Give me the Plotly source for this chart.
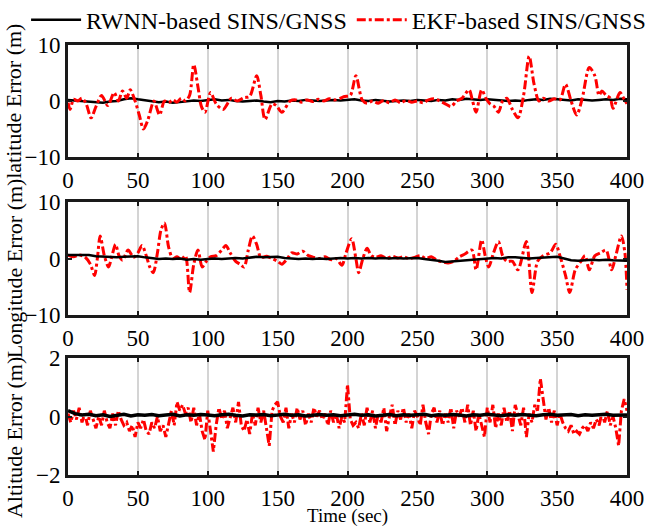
import plotly.graph_objects as go
from plotly.subplots import make_subplots

# ---------------- data ----------------
lat_ekf_t = [0, 1.5, 4, 7, 10, 13, 16.5, 20, 24, 28.5, 33, 36, 39, 42, 44.5, 48, 51, 54, 57, 61.5,
             65.5, 69, 72, 75, 78, 81, 84, 87, 90, 93, 95.5, 98, 102, 106, 111, 117, 121, 126, 130, 135,
             138, 141, 146, 149, 153, 159, 163, 167, 171, 175, 179, 183, 187, 191, 195, 198, 202, 206, 210.5, 214,
             218, 222, 226, 230, 234, 238, 242, 246, 250, 254, 258, 262, 266, 270, 274, 278, 282, 287, 289.5, 292,
             296, 299, 302, 305, 308, 311, 314, 318, 322, 326, 330, 333.5, 337, 340, 344, 348, 352, 356, 360, 364,
             368, 373, 377, 380, 382, 385, 388, 390, 395, 398, 400]
lat_ekf_v = [-0.3, -1.5, 0.3, 0.0, 0.5, -0.5, -3.0, -1.0, 1.0, -0.8, 1.5, 0.0, 1.8, 0.5, 2.0, 0.0, -2.5, -5.0, -3.5, 0.0,
             -2.5, 0.0, -0.3, 0.2, -0.2, 0.5, 0.0, 1.0, 6.5, 2.5, -1.0, -2.0, 1.5, -0.5, -1.5, 0.5, 0.0, 0.6, 0.8, 4.5,
             1.0, -3.3, -0.5, -0.8, -2.0, 0.0, 0.2, -0.2, 0.2, -0.1, 0.3, 0.0, 0.4, 0.2, 0.5, 0.8, 1.0, 4.5, 0.2, -0.4,
             0.0, -0.4, 0.1, -0.3, 0.2, -0.3, 0.1, -0.2, 0.0, -0.3, 0.2, 0.4, 0.0, -0.5, -1.0, 0.0, 0.5, 2.0, 0.0, -2.0,
             2.0, 0.5, -0.5, -1.0, -2.0, 0.0, 0.5, -1.5, -3.0, 1.0, 8.0, 3.0, 0.0, 0.5, 0.0, 0.4, 0.2, 3.0, 0.0, -2.5,
             0.5, 6.0, 4.5, 1.0, 1.8, 1.0, 0.5, -1.3, 1.5, 0.3, -0.5]

lon_ekf_t = [0, 4, 8, 12, 16, 19, 21, 23, 26, 29, 31.5, 34, 36.5, 39, 43, 47, 50, 53, 56, 58.5,
             61, 64, 66.5, 69, 72, 75, 78, 81, 84, 87, 90, 93, 96, 99, 102, 106, 110, 113, 116, 120,
             123, 126, 129, 132, 135, 138, 142, 146, 150, 153, 157, 160, 164, 168, 172, 176, 180, 184, 188, 192,
             196, 199, 203, 206, 208, 211, 214, 217, 220, 224, 228, 232, 236, 240, 244, 248, 252, 256, 260, 264,
             268, 272, 276, 280, 284, 289, 292, 296, 298.5, 301, 304.5, 308, 311, 314, 318, 322, 328, 332, 336, 340,
             345, 349, 352, 356, 359, 363, 367, 370, 373, 377, 381, 385, 389, 392, 396, 398.5, 400]
lon_ekf_v = [0.6, 0.3, 0.6, 0.3, -1.0, -3.0, 0.0, 4.0, 0.5, -1.5, 0.5, 2.5, 0.5, -0.3, 1.5, 0.2, 1.0, 2.3, 0.5, -1.5,
             -2.5, 1.0, 5.0, 6.3, 2.0, 0.0, 0.3, -0.2, 0.5, -6.0, -1.0, 1.5, -1.5, -0.5, 0.3, 0.5, 1.5, 2.3, 1.0, -0.5,
             -1.0, -1.5, 1.5, 4.0, 2.5, 0.2, 0.4, 0.0, -0.5, -1.0, 0.0, 1.0, 0.8, 1.3, 0.5, 0.2, 0.0, 0.3, -0.2, 0.0,
             -1.2, 1.0, 3.5, 0.0, -2.5, 0.0, 1.8, 0.5, 0.2, 0.5, 0.0, 0.4, 0.1, 0.3, 0.0, 0.2, 0.5, 0.0, 0.3, -0.3,
             -0.6, -0.8, -0.5, 0.3, 0.8, 1.5, -2.0, 3.3, 0.5, -1.5, 1.0, 3.0, 0.5, -0.5, -0.5, -2.0, 3.0, -6.0, -0.5, 0.5,
             1.0, 2.5, 0.5, -3.0, -6.0, -2.0, -0.5, 0.5, -2.0, 0.5, 1.0, 1.5, -2.0, 0.5, 4.0, 1.0, -5.5]

rw_step = 5
lat_rwnn = [0.2, 0.1, 0.0, -0.1, -0.2, -0.3, -0.1, 0.0, 0.3, 0.5, 0.3, 0.1, 0.0, -0.2, -0.1, -0.3, -0.2, -0.1, 0.1, 0.0,
            0.2, 0.3, 0.1, 0.2, 0.0, -0.1, 0.0, 0.1, -0.1, -0.2, 0.0, -0.1, 0.1, 0.0, 0.2, 0.1, 0.0, 0.1, 0.2, 0.1,
            0.2, 0.3, 0.1, 0.0, 0.2, 0.1, -0.1, 0.0, 0.1, 0.0, 0.2, 0.1, 0.0, 0.2, 0.1, 0.3, 0.2, 0.4, 0.3, 0.2,
            0.3, 0.2, 0.1, 0.0, 0.1, 0.0, 0.2, 0.3, 0.2, 0.4, 0.3, 0.2, 0.1, 0.3, 0.2, 0.1, 0.2, 0.3, 0.2, 0.4, 0.3]
lon_rwnn = [0.6, 0.6, 0.5, 0.6, 0.4, 0.3, 0.3, 0.2, 0.3, 0.4, 0.4, 0.2, 0.0, -0.1, 0.0, -0.1, 0.0, -0.2, -0.1, -0.2,
            -0.1, 0.0, -0.1, 0.0, 0.1, 0.0, 0.2, 0.3, 0.2, 0.3, 0.3, 0.1, 0.0, -0.1, 0.0, -0.1, 0.0, -0.1, 0.0, 0.1,
            0.0, 0.1, 0.0, 0.1, 0.0, 0.1, 0.0, 0.1, 0.0, 0.0, 0.1, -0.1, -0.2, -0.4, -0.6, -0.5, -0.3, -0.2, -0.1, 0.0,
            0.0, 0.1, 0.0, 0.2, 0.2, 0.1, 0.0, 0.1, 0.2, 0.3, 0.3, 0.0, -0.3, -0.4, -0.3, -0.2, -0.3, -0.2, -0.3, -0.4, -0.4]
alt_rwnn = [0.2, 0.1, 0.05, 0.08, 0.03, 0.06, 0.0, 0.05, 0.08, 0.02, 0.06, 0.04, 0.07, 0.03, 0.05, 0.08, 0.02, 0.06, 0.04, 0.07,
            0.05, 0.03, 0.06, 0.08, 0.04, 0.02, 0.06, 0.05, 0.07, 0.03, 0.05, 0.08, 0.04, 0.06, 0.02, 0.05, 0.07, 0.04, 0.06, 0.03,
            0.05, 0.08, 0.04, 0.06, 0.02, 0.05, 0.07, 0.03, 0.06, 0.04, 0.05, 0.08, 0.03, 0.06, 0.04, 0.07, 0.05, 0.02, 0.06, 0.04,
            0.08, 0.05, 0.03, 0.06, 0.04, 0.07, 0.05, 0.03, 0.06, 0.08, 0.04, 0.05, 0.07, 0.03, 0.06, 0.04, 0.05, 0.08, 0.04, 0.06, 0.05]

alt_step = 2
alt_ekf = [0.1, -0.2, 0.2, -0.1, 0.3, -0.2, 0.1, -0.3, 0.2, -0.1,
           -0.4, 0.0, -0.3, 0.2, -0.2, -0.4, 0.1, -0.3, 0.2, -0.1,
           -0.3, -0.2, -0.5, -0.3, -0.7, -0.2, -0.4, -0.1, -0.5, -0.6,
           -0.2, -0.4, 0.0, -0.5, -0.3, -0.7, -0.2, 0.2, -0.3, 0.5,
           0.2, 0.4, 0.1, 0.3, -0.2, 0.3, -0.3, 0.1, -0.5, -0.8,
           0.2, -0.6, -1.2, -0.3, 0.3, -0.1, 0.2, -0.4, 0.0, 0.3,
           -0.2, 0.5, -0.3, -0.5, -0.1, -0.6, 0.1, -0.3, 0.3, -0.2,
           0.2, -0.4, -1.0, 0.2, 0.4, 0.5, 0.0, -0.2, 0.3, -0.4,
           0.1, -0.2, 0.3, -0.1, 0.2, -0.3, 0.1, -0.2, 0.3, 0.0,
           0.2, -0.1, 0.1, -0.3, 0.2, -0.2, 0.1, -0.4, 0.0, -0.2,
           1.1, -0.1, -0.3, -0.2, -0.4, 0.1, -0.3, 0.3, -0.2, 0.2,
           -0.4, 0.1, -0.2, 0.3, -0.5, 0.0, 0.4, -0.3, 0.2, -0.1,
           0.3, -0.2, 0.1, -0.4, 0.2, 0.0, -0.3, 0.4, -0.2, -0.6,
           0.1, 0.3, -0.2, 0.2, -0.3, 0.1, -0.2, 0.3, -0.4, 0.2,
           0.0, 0.3, -0.2, 0.4, -0.3, 0.2, -0.5, 0.1, -0.3, -0.7,
           0.3, -0.2, 0.4, -0.4, 0.1, -0.3, 0.3, -0.2, 0.2, -0.5,
           0.4, 0.0, -0.3, 0.3, -0.7, 0.1, -0.2, 0.4, 0.2, 1.3,
           0.5, -0.1, 0.3, -0.2, 0.2, -0.3, 0.1, -0.2, -0.4, -0.5,
           -0.3, -0.6, -0.5, -0.6, -0.4, -0.3, -0.5, -0.2, -0.4, -0.1,
           -0.3, 0.1, -0.2, 0.2, -0.3, 0.0, -0.4, -1.0, 0.2, 0.6,
           0.2]

rw_t = [i * rw_step for i in range(len(lat_rwnn))]
alt_rw_t = [i * rw_step for i in range(len(alt_rwnn))]
alt_t = [i * alt_step for i in range(len(alt_ekf))]

x_ticks = [0, 50, 100, 150, 200, 250, 300, 350, 400]
legend_names = ["RWNN-based SINS/GNSS", "EKF-based SINS/GNSS"]
y_titles = ["latitude Error (m)", "Longitude Error (m)", "Altitude Error (m)"]
x_title = "Time (sec)"

# ---------------- figure ----------------
FONT = "Liberation Serif, Times New Roman, serif"
fig = make_subplots(rows=3, cols=1, shared_xaxes=False, vertical_spacing=0.1)

black = dict(color="black", width=2.5)
red = dict(color="#ff0000", width=3, dash="dashdot")

fig.add_trace(go.Scatter(x=rw_t, y=lat_rwnn, mode="lines", line=black, name=legend_names[0]), row=1, col=1)
fig.add_trace(go.Scatter(x=lat_ekf_t, y=lat_ekf_v, mode="lines", line=dict(red, shape="spline", smoothing=0.8),
                         name=legend_names[1]), row=1, col=1)
fig.add_trace(go.Scatter(x=lon_ekf_t, y=lon_ekf_v, mode="lines", line=dict(red, shape="spline", smoothing=0.8),
                         showlegend=False), row=2, col=1)
fig.add_trace(go.Scatter(x=rw_t, y=lon_rwnn, mode="lines", line=black, showlegend=False), row=2, col=1)
fig.add_trace(go.Scatter(x=alt_t, y=alt_ekf, mode="lines", line=red, showlegend=False), row=3, col=1)
fig.add_trace(go.Scatter(x=alt_rw_t, y=alt_rwnn, mode="lines", line=dict(color="black", width=3.5),
                         showlegend=False), row=3, col=1)

domains = [[0.7395, 1.0], [0.372, 0.635], [0.0, 0.272]]
yranges = [[-10, 10], [-10, 10], [-2, 2]]
yticks = [[-10, 0, 10], [-10, 0, 10], [-2, 0, 2]]
tickfont = dict(family=FONT, size=23, color="black")
for i in range(3):
    ax = "" if i == 0 else str(i + 1)
    fig.layout["xaxis" + ax].update(
        range=[0, 400], tickvals=x_ticks, showgrid=True, gridcolor="#d4d4d4", gridwidth=2,
        zeroline=False, showline=True, linecolor="#1a1a1a", linewidth=3, mirror="ticks",
        ticks="inside", ticklen=4, tickwidth=2, tickcolor="#1a1a1a", tickfont=tickfont)
    fig.layout["yaxis" + ax].update(
        domain=domains[i], range=yranges[i], tickvals=yticks[i], showgrid=False,
        zeroline=False, showline=True, linecolor="#1a1a1a", linewidth=3, mirror="ticks",
        ticks="inside", ticklen=4, tickwidth=2, tickcolor="#1a1a1a", tickfont=tickfont)

title_y = [0.868, 0.481, 0.086]
for i in range(3):
    fig.add_annotation(text=y_titles[i], xref="paper", yref="paper", x=-0.0966, y=title_y[i],
                       textangle=-90, showarrow=False, xanchor="center", yanchor="middle",
                       font=dict(family=FONT, size=22, color="black"))
fig.add_annotation(text=x_title, xref="paper", yref="paper", x=0.5, y=-0.095, showarrow=False,
                   xanchor="center", yanchor="middle", font=dict(family=FONT, size=19, color="black"))

fig.update_layout(
    width=651, height=528, margin=dict(l=68, r=24, t=45, b=53, autoexpand=False),
    paper_bgcolor="white", plot_bgcolor="white",
    font=dict(family=FONT, color="black"),
    legend=dict(orientation="h", x=-0.075, y=1.11, xanchor="left", yanchor="top",
                font=dict(family=FONT, size=24, color="black"), bgcolor="rgba(0,0,0,0)",
                itemwidth=50, tracegroupgap=0),
    showlegend=True,
)

# remove the browser's default 8px body margin so the figure sits at the window origin
fig.write_html("out.html", config={"displayModeBar": False},
               post_script="document.body.style.margin='0';")
